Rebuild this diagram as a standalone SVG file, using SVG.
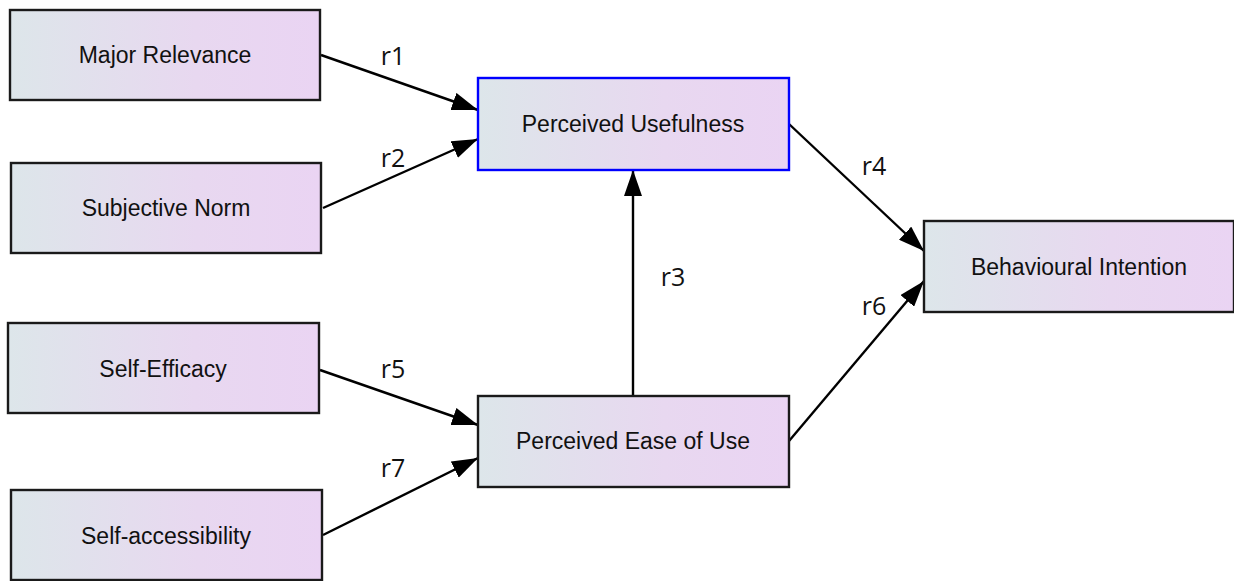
<svg xmlns="http://www.w3.org/2000/svg" width="1234" height="581" viewBox="0 0 1234 581">
<style>
.box{fill:url(#g);stroke:#1a1a1a;stroke-width:2.4}
.sel{fill:url(#g);stroke:#0000ff;stroke-width:2.4}
.lbl{font-family:"Liberation Sans",Arial,sans-serif;font-size:23px;fill:#111;text-anchor:middle;dominant-baseline:central}
.el{font-family:"Open Sans","DejaVu Sans",sans-serif;font-size:25px;fill:#111;text-anchor:middle;dominant-baseline:central}
.c{stroke:#000;stroke-width:2.4;fill:none;marker-end:url(#b)}
</style>
<defs>
<linearGradient id="g" x1="0" y1="0" x2="1" y2="0">
<stop offset="0" stop-color="#dde6ea"/>
<stop offset="0.6" stop-color="#e8d8f0"/>
<stop offset="1" stop-color="#ead4f3"/>
</linearGradient>
<marker id="b" viewBox="0 0 26 18" refX="26" refY="9" markerWidth="26" markerHeight="18" orient="auto" markerUnits="userSpaceOnUse">
<path d="M0,0 L26,9 L0,18 z" fill="#000"/>
</marker>
</defs>
<g id="connectors">
<line class="c" x1="321" y1="55" x2="478" y2="110"/>
<line class="c" x1="323" y1="208" x2="478" y2="139"/>
<line class="c" x1="633" y1="396" x2="633" y2="170"/>
<line class="c" x1="789" y1="124" x2="924" y2="251"/>
<line class="c" x1="789" y1="441" x2="924" y2="281"/>
<line class="c" x1="320" y1="370" x2="478" y2="425"/>
<line class="c" x1="323" y1="535" x2="478" y2="458"/>
<text class="el" x="393" y="55">r1</text>
<text class="el" x="393" y="157">r2</text>
<text class="el" x="673" y="276">r3</text>
<text class="el" x="874" y="165">r4</text>
<text class="el" x="393" y="368">r5</text>
<text class="el" x="874" y="305">r6</text>
<text class="el" x="393" y="467">r7</text>
</g>
<g id="major-relevance"><rect class="box" x="10" y="10" width="310" height="90"/><text class="lbl" x="165" y="55">Major Relevance</text></g>
<g id="subjective-norm"><rect class="box" x="11" y="163" width="310" height="90"/><text class="lbl" x="166" y="208">Subjective Norm</text></g>
<g id="self-efficacy"><rect class="box" x="8" y="323" width="311" height="90"/><text class="lbl" x="163" y="369">Self-Efficacy</text></g>
<g id="self-accessibility"><rect class="box" x="11" y="490" width="311" height="90"/><text class="lbl" x="166" y="536">Self-accessibility</text></g>
<g id="perceived-usefulness"><rect class="sel" x="478" y="78" width="311" height="92"/><text class="lbl" x="633" y="124">Perceived Usefulness</text></g>
<g id="perceived-ease-of-use"><rect class="box" x="478" y="396" width="311" height="91"/><text class="lbl" x="633" y="441">Perceived Ease of Use</text></g>
<g id="behavioural-intention"><rect class="box" x="924" y="221" width="310" height="91"/><text class="lbl" x="1079" y="267">Behavioural Intention</text></g>
</svg>
